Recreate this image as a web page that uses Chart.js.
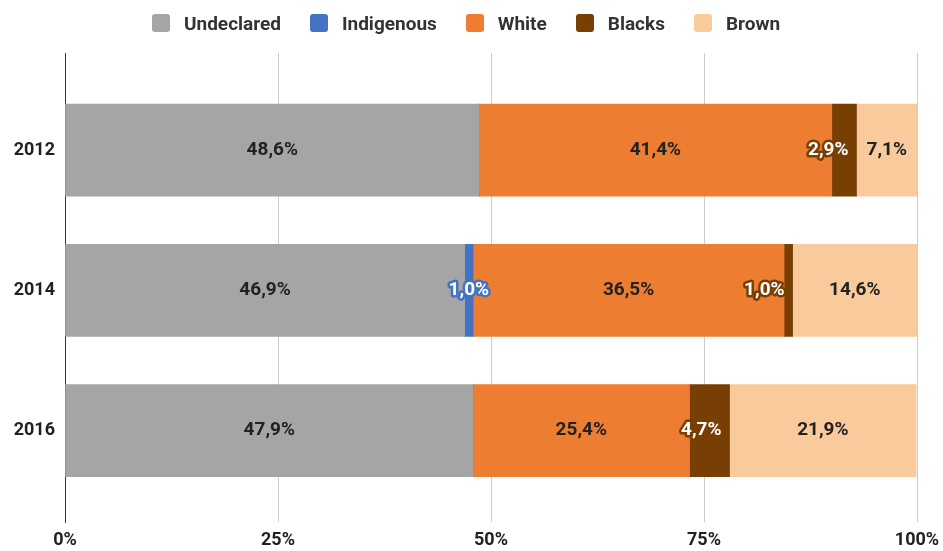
<!DOCTYPE html>
<html>
<head>
<meta charset="utf-8">
<script src="https://cdn.jsdelivr.net/npm/chart.js@4.4.1/dist/chart.umd.min.js"></script>
<style>
  html, body { margin: 0; padding: 0; background: #fff; }
  #wrap { position: relative; width: 943px; height: 551px; }
  #legend { position: absolute; left: 152px; top: 12px; height: 22px; display: flex; align-items: center;
            font-family: Roboto, sans-serif; font-weight: bold; font-size: 19px; color: #333; white-space: nowrap; }
  .item { display: flex; align-items: center; margin-right: 29px; }
  .box { width: 18px; height: 18px; border-radius: 3px; margin-right: 14px; }
</style>
</head>
<body>
<div id="wrap">
  <canvas id="c" width="943" height="551"></canvas>
  <div id="legend"></div>
</div>
<script>
const years = ['2012', '2014', '2016'];
const seriesNames = ['Undeclared', 'Indigenous', 'White', 'Blacks', 'Brown'];
const undeclared = [48.6, 46.9, 47.9];
const indigenous = [0, 1.0, 0];
const white = [41.4, 36.5, 25.4];
const blacks = [2.9, 1.0, 4.7];
const brown = [7.1, 14.6, 21.9];
const xTicks = [0, 25, 50, 75, 100];

const colors = ['#a5a5a5', '#4472c4', '#ed7d31', '#783f04', '#f9cb9c'];
const labelStyle = ['plain', 'outline', 'plain', 'outlineEnd', 'plain'];
const seriesValues = [undeclared, indigenous, white, blacks, brown];

const datasets = seriesNames.map((name, k) => ({
  label: name,
  data: seriesValues[k].map((v, i) => ({ x: v, y: i })),
  backgroundColor: colors[k],
  borderWidth: 0,
  barThickness: 92,
  labelStyle: labelStyle[k]
}));

const fmt = v => v.toFixed(1).replace('.', ',') + '%';

const labelPlugin = {
  id: 'barLabels',
  afterDatasetsDraw(chart) {
    const ctx = chart.ctx;
    ctx.save();
    ctx.font = 'bold 19px Roboto, sans-serif';
    ctx.textBaseline = 'middle';
    ctx.lineJoin = 'round';
    chart.data.datasets.forEach((ds, k) => {
      const meta = chart.getDatasetMeta(k);
      meta.data.forEach((bar, i) => {
        const v = ds.data[i].x;
        if (!v) return;
        const txt = fmt(v);
        let x = (bar.x + bar.base) / 2;
        const y = bar.y;
        ctx.textAlign = 'center';
        if (ds.labelStyle === 'outlineEnd') {
          ctx.textAlign = 'right';
          x = bar.x - 8;
        }
        if (ds.labelStyle === 'plain') {
          ctx.fillStyle = '#222';
          ctx.fillText(txt, x, y);
        } else {
          ctx.strokeStyle = ds.backgroundColor;
          ctx.lineWidth = 5;
          ctx.strokeText(txt, x, y);
          ctx.fillStyle = '#fff';
          ctx.fillText(txt, x, y);
        }
      });
    });
    ctx.restore();
  }
};

const chart = new Chart(document.getElementById('c'), {
  type: 'bar',
  data: { datasets },
  options: {
    responsive: false,
    animation: false,
    indexAxis: 'y',
    layout: { padding: { top: 53, right: 26, left: 0, bottom: 0 } },
    plugins: { legend: { display: false }, tooltip: { enabled: false } },
    scales: {
      x: {
        type: 'linear', stacked: true, min: 0, max: 100, offset: false,
        afterBuildTicks: s => { s.ticks = xTicks.map(v => ({ value: v })); },
        afterFit: s => { s.height = 29; s.paddingRight = 0; s.paddingLeft = 0; },
        grid: { color: '#cccccc', lineWidth: 1, drawTicks: false, offset: false },
        border: { display: false },
        ticks: { padding: 8, color: '#222', font: { family: 'Roboto', weight: 'bold', size: 18 },
                 callback: v => v + '%' }
      },
      y: {
        type: 'linear', stacked: true, reverse: true, min: -0.692, max: 2.652, offset: false,
        afterBuildTicks: s => { s.ticks = years.map((_, i) => ({ value: i })); },
        afterFit: s => { s.width = 65; },
        grid: { display: false, drawTicks: false, offset: false },
        border: { display: true, color: '#333', width: 1 },
        ticks: { padding: 10, color: '#222', font: { family: 'Roboto', weight: 'bold', size: 18 },
                 callback: v => years[v] }
      }
    }
  },
  plugins: [labelPlugin]
});

const legend = document.getElementById('legend');
chart.data.datasets.forEach(ds => {
  const it = document.createElement('div');
  it.className = 'item';
  const b = document.createElement('div');
  b.className = 'box';
  b.style.background = ds.backgroundColor;
  const t = document.createElement('span');
  t.textContent = ds.label;
  it.appendChild(b); it.appendChild(t);
  legend.appendChild(it);
});
</script>
</body>
</html>
